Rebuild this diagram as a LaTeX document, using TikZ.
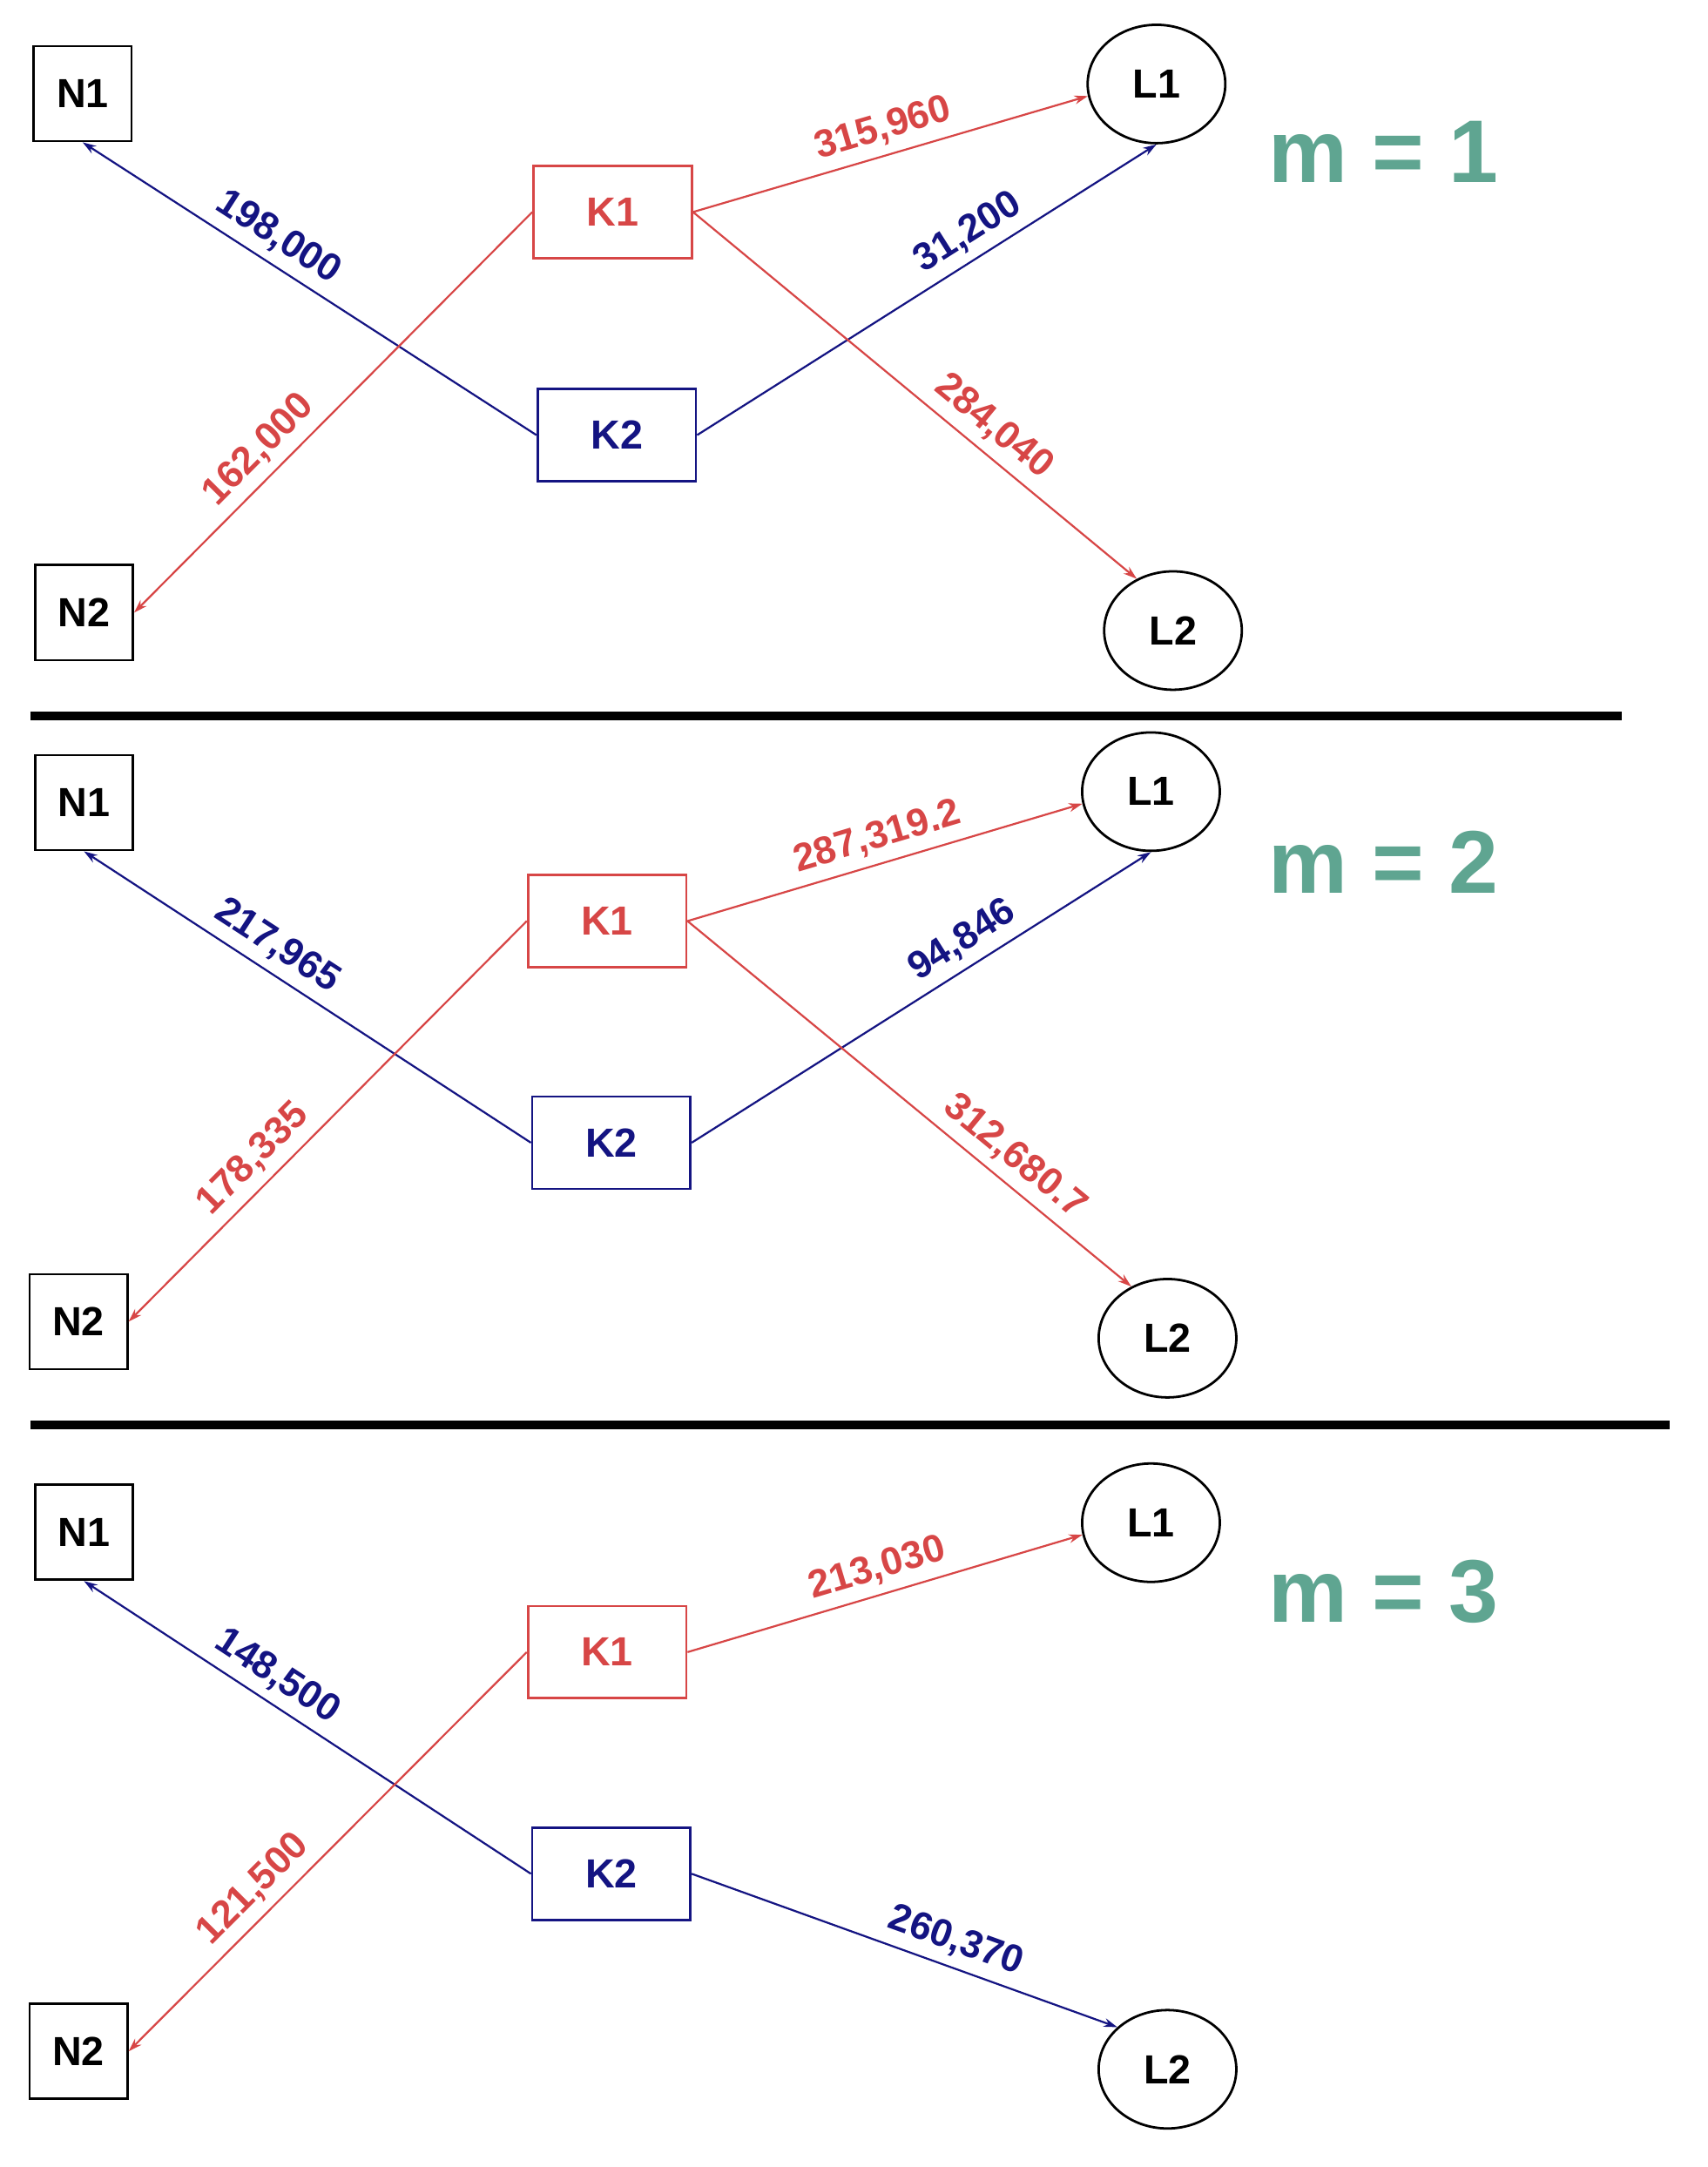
\documentclass[tikz,border=0pt]{standalone}
\usepackage{fontspec}
\setmainfont{Liberation Sans}
\usetikzlibrary{arrows.meta,shapes.geometric}
\definecolor{cred}{RGB}{215,70,70}
\definecolor{cblue}{RGB}{20,20,130}
\definecolor{cteal}{RGB}{95,165,145}
\begin{document}
\begin{tikzpicture}[x=0.05cm,y=-0.05cm,
  sq/.style={draw,line width=2.5pt,minimum width=3.55cm,minimum height=3.45cm,inner sep=0pt,font=\fontsize{42}{46}\selectfont\bfseries},
  kbox/.style={draw,line width=2.5pt,minimum width=5.75cm,minimum height=3.35cm,inner sep=0pt,font=\fontsize{42}{46}\selectfont\bfseries},
  ell/.style={draw,ellipse,line width=2.5pt,minimum width=5cm,minimum height=4.3cm,inner sep=0pt,font=\fontsize{42}{46}\selectfont\bfseries},
  edge/.style={line width=2pt,-{Stealth[length=14pt,width=9pt]}},
  rl/.style={edge,cred},
  bl/.style={edge,cblue},
  lab/.style={font=\fontsize{40}{44}\selectfont\bfseries,sloped,inner sep=9pt},
  mlab/.style={font=\fontsize{92}{96}\selectfont\bfseries,text=cteal},
  sep/.style={line width=8.5pt}]
\useasboundingbox (0,0) rectangle (1240,1574);
% panel 1
\node[sq] (N1a) at (60,68) {N1};
\node[sq] (N2a) at (61,445) {N2};
\node[kbox,draw=cred,text=cred] (K1a) at (445,154) {K1};
\node[kbox,draw=cblue,text=cblue] (K2a) at (448,316) {K2};
\node[ell] (L1a) at (840,61) {L1};
\node[ell] (L2a) at (852,458) {L2};
\node[mlab] (ma) at (1005,110) {m = 1};
\draw[bl] (K2a.west) -- node[lab,above,pos=0.6,text=cblue]{198,000} (N1a.south);
\draw[rl] (K1a.west) -- node[lab,above,pos=0.64,text=cred]{162,000} (N2a.east);
\draw[rl] (K1a.east) -- node[lab,above,pos=0.5,text=cred]{315,960} (L1a.190);
\draw[bl] (K2a.east) -- node[lab,above,pos=0.62,text=cblue]{31,200} (L1a.south);
\draw[rl] (K1a.east) -- node[lab,above,pos=0.64,text=cred]{284,040} (L2a.125);
\coordinate (s1a) at (22,520); \coordinate (s1b) at (1178,520);
\draw[sep] (s1a) -- (s1b);
% panel 2
\node[sq] (N1b) at (61,583) {N1};
\node[sq] (N2b) at (57,960) {N2};
\node[kbox,draw=cred,text=cred] (K1b) at (441,669) {K1};
\node[kbox,draw=cblue,text=cblue] (K2b) at (444,830) {K2};
\node[ell] (L1b) at (836,575) {L1};
\node[ell] (L2b) at (848,972) {L2};
\node[mlab] (mb) at (1005,626) {m = 2};
\draw[bl] (K2b.west) -- node[lab,above,pos=0.6,text=cblue]{217,965} (N1b.south);
\draw[rl] (K1b.west) -- node[lab,above,pos=0.64,text=cred]{178,335} (N2b.east);
\draw[rl] (K1b.east) -- node[lab,above,pos=0.5,text=cred]{287,319.2} (L1b.190);
\draw[bl] (K2b.east) -- node[lab,above,pos=0.62,text=cblue]{94,846} (L1b.south);
\draw[rl] (K1b.east) -- node[lab,above,pos=0.7,text=cred]{312,680.7} (L2b.125);
\coordinate (s2a) at (22,1035); \coordinate (s2b) at (1213,1035);
\draw[sep] (s2a) -- (s2b);
% panel 3
\node[sq] (N1c) at (61,1113) {N1};
\node[sq] (N2c) at (57,1490) {N2};
\node[kbox,draw=cred,text=cred] (K1c) at (441,1200) {K1};
\node[kbox,draw=cblue,text=cblue] (K2c) at (444,1361) {K2};
\node[ell] (L1c) at (836,1106) {L1};
\node[ell] (L2c) at (848,1503) {L2};
\node[mlab] (mc) at (1005,1156) {m = 3};
\draw[bl] (K2c.west) -- node[lab,above,pos=0.6,text=cblue]{148,500} (N1c.south);
\draw[rl] (K1c.west) -- node[lab,above,pos=0.64,text=cred]{121,500} (N2c.east);
\draw[rl] (K1c.east) -- node[lab,above,pos=0.5,text=cred]{213,030} (L1c.190);
\draw[bl] (K2c.east) -- node[lab,above,pos=0.6,text=cblue]{260,370} (L2c.140);
\end{tikzpicture}
\end{document}
